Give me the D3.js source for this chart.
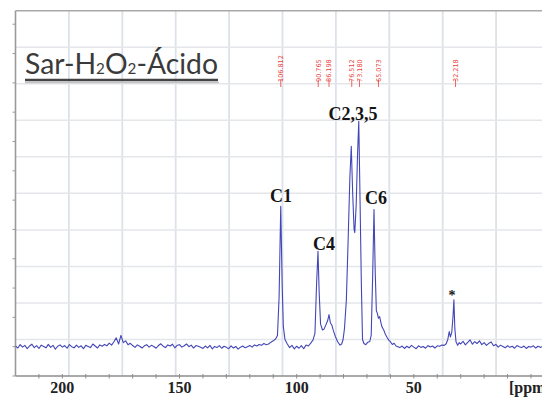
<!DOCTYPE html>
<html>
<head>
<meta charset="utf-8">
<script src="https://cdn.jsdelivr.net/npm/d3@7"></script>
<style>
  html, body { margin: 0; padding: 0; background: #fff; }
  svg { display: block; }
</style>
</head>
<body>
<svg id="chart"></svg>
<script>
// --- Spectrum data (ppm, relative intensity; tallest peak = 100) ---

// baseline noise, 1 ppm steps from 220 down to 113
const baseLeft = [
  0.4, -0.6, 0.9, -0.2, 0.6, -0.9, 0.3, 1.1, -0.4, 0.5,
  -0.8, 0.7, 0.1, -0.5, 1.0, -0.3, 0.6, -1.1, 0.2, 0.8,
  -0.2, 0.5, -0.7, 0.9, 0.0, -0.5, 0.7, -0.3, 0.4, -0.9,
  0.6, 0.1, -0.4, 1.2, 0.3, -0.6, 0.8, 0.2, 1.0, 0.4,
  1.6, 0.7, 2.2, 3.9, 1.2, 5.0, 1.8, 2.6, 0.9, 1.5,
  0.5, -0.3, 0.8, 0.2, -0.6, 0.4, 0.9, -0.2, 0.6, 0.1,
  -0.7, 0.5, 1.3, 0.2, -0.4, 0.8, 0.3, 1.1, -0.5, 0.6,
  0.9, -0.2, 0.4, 1.2, 0.0, 0.7, -0.6, 0.5, 0.2, -0.3,
  -0.8, 0.3, -0.5, 0.6, -1.0, 0.1, -0.4, 0.5, -0.7, 0.2,
  -0.3, -0.9, 0.4, -0.6, 0.1, -1.1, -0.2, 0.3, -0.5, 0.0,
  0.5, -0.2, 0.8, 0.3, 1.0, 0.6, 1.4, 0.9
];

// carbohydrate region, C1 .. C6
const peakRegion = [
  [112, 1.2], [111, 2.0], [110, 2.6], [109, 3.4], [108.2, 5], [107.5, 22],
  [106.8, 62.3], [106.2, 28], [105.7, 9], [105, 3.2], [104, 1.2], [103, -0.4],
  [102, 0.6], [101, -1.0], [100, 0.2], [99, -0.7], [98, 0.5], [97, -0.9],
  [96, 0.7], [95, 0.3], [94, 1.6], [93, 3.0], [92.2, 6], [91.5, 28],
  [90.9, 42.3], [90.4, 24], [89.8, 10], [89, 7.4], [88.3, 7.8], [87.5, 9.8],
  [86.8, 11.5], [86.2, 14.2], [85.6, 10.5], [85, 9.6], [84.3, 7], [83.5, 4.5],
  [82.5, 2.2], [81.5, 0.7], [80.8, 1.2], [80.2, 3.2], [79.6, 8], [78.8, 20.7],
  [78.1, 45], [77.3, 75], [76.7, 88.9], [76.1, 68], [75.5, 52], [75.2, 50.6],
  [74.6, 63], [74.0, 86], [73.5, 100], [73.0, 68], [72.4, 28], [71.9, 3.2],
  [71.3, 1.4], [70.5, 0.9], [69.6, 2.0], [68.8, 2.3], [68.2, 5], [67.6, 30],
  [67.0, 60.8], [66.5, 34], [66.0, 16], [65.6, 14.9], [65.1, 12.6], [64.6, 13.3],
  [64.0, 10.4], [63.5, 8.6], [62.8, 7.3], [62.2, 5.6], [61.4, 4.1], [60.7, 2.9],
  [60, 2.2], [59.2, 1.0], [58.4, 1.5], [57.6, 0.3]
];

// baseline noise, 56 down to 38
const baseMid = [
  -0.4, 0.3, -0.8, 0.2, -0.5, 0.6, -0.2, -0.9, 0.4, -0.3,
  0.1, -0.7, 0.5, -0.1, 0.3, -0.6, 0.4, 0.2, 0.7
];

// peak marked with *
const peakStar = [
  [37, 0.6], [36.2, 1.3], [35.5, 3.2], [34.9, 6.7], [34.4, 4.3], [33.8, 6.5],
  [33.3, 13], [32.9, 20.8], [32.5, 8], [32.0, 2.2], [31.3, 0.6], [30.6, 1.8]
];

// baseline noise, 30 down to -5
const baseRight = [
  1.2, 2.4, 0.8, 1.9, 3.0, 1.1, 2.2, 1.4, 2.6, 0.9,
  1.8, 0.6, 1.5, 2.1, 0.4, 1.0, -0.2, 0.7, 0.1, -0.5,
  0.4, -0.3, 0.2, -0.7, 0.5, 0.0, -0.4, 0.3, -0.8, 0.1,
  -0.2, 0.4, -0.6, 0.2, -0.3, 0.1
];

// peak assignments (label anchor in ppm / intensity)
const labelText = ['C1', 'C4', 'C2,3,5', 'C6', '*'];
const labelPpm = [106.7, 88.3, 76.0, 66.1, 33.7];
const labelInt = [64.2, 42.9, 100.5, 63.3, 20.6];

// peak-pick markers at the top
const pickPpm = [106.8, 90.8, 86.2, 76.5, 73.2, 65.1, 32.2];
const pickText = ['106.812', '90.765', '86.198', '76.512', '73.180', '65.073', '32.218'];

// axis
const tickLabels = [200, 150, 100, 50];
const minorTicks = d3.range(210, -1, -10);

// --- Layout ---
const width = 542, height = 397;
const frame = { left: 15.5, top: 10.7, right: 549.5, bottom: 376 };

const svg = d3.select('#chart')
  .attr('width', width)
  .attr('height', height)
  .attr('viewBox', `0 0 ${width} ${height}`);

const x = d3.scaleLinear().domain([220, -4.7]).range([frame.left, width]);
const y = d3.scaleLinear().domain([-13, 149]).range([frame.bottom, frame.top]);

// drawing grid (10 x 10 boxes independent of the ppm scale)
const gx = d3.scaleLinear().domain([0, 10]).range([frame.left, frame.right]);
const gy = d3.scaleLinear().domain([0, 10]).range([frame.top, frame.bottom]);

const grid = svg.append('g');
grid.selectAll('.vgrid')
  .data(d3.range(1, 10))
  .join('line')
  .attr('x1', d => gx(d)).attr('x2', d => gx(d))
  .attr('y1', frame.top).attr('y2', frame.bottom)
  .attr('stroke', '#dbe2ea')
  .attr('stroke-width', 1.8);
grid.selectAll('.hgrid')
  .data(d3.range(1, 10))
  .join('line')
  .attr('x1', frame.left).attr('x2', width)
  .attr('y1', d => gy(d)).attr('y2', d => gy(d))
  .attr('stroke', '#e4e6ea')
  .attr('stroke-width', 1.5);

// frame
svg.append('line')
  .attr('x1', frame.left).attr('x2', width)
  .attr('y1', frame.top).attr('y2', frame.top)
  .attr('stroke', '#a8a8a8').attr('stroke-width', 1.6);
svg.append('line')
  .attr('x1', frame.left).attr('x2', frame.left)
  .attr('y1', frame.top).attr('y2', frame.bottom)
  .attr('stroke', '#9a9a9a').attr('stroke-width', 1.6);

// small ticks on left edge
svg.selectAll('.ltick')
  .data(d3.range(-13, 149, 13))
  .join('line')
  .attr('x1', frame.left - 3).attr('x2', frame.left)
  .attr('y1', d => y(d)).attr('y2', d => y(d))
  .attr('stroke', '#9a9a9a').attr('stroke-width', 1);

// bottom axis
svg.append('line')
  .attr('x1', frame.left).attr('x2', width)
  .attr('y1', frame.bottom).attr('y2', frame.bottom)
  .attr('stroke', '#8c8c8c').attr('stroke-width', 1.4);
svg.selectAll('.btick')
  .data(minorTicks)
  .join('line')
  .attr('x1', d => x(d)).attr('x2', d => x(d))
  .attr('y1', frame.bottom - 2).attr('y2', frame.bottom + 2.5)
  .attr('stroke', '#8c8c8c').attr('stroke-width', 1);

const serif = '"Liberation Serif", "Times New Roman", "DejaVu Serif", serif';

svg.selectAll('.blabel')
  .data(tickLabels)
  .join('text')
  .attr('x', d => x(d))
  .attr('y', 393)
  .attr('text-anchor', 'middle')
  .attr('font-family', serif)
  .attr('font-weight', 'bold')
  .attr('font-size', 16)
  .attr('fill', '#222')
  .text(d => d);

svg.append('text')
  .attr('x', x(0) - 22)
  .attr('y', 393)
  .attr('font-family', serif)
  .attr('font-weight', 'bold')
  .attr('font-size', 16)
  .attr('fill', '#222')
  .text('[ppm]');

// --- Spectrum ---
const pts = [];
baseLeft.forEach((v, i) => pts.push([220 - i, v]));
peakRegion.forEach(p => pts.push(p));
baseMid.forEach((v, i) => pts.push([56 - i, v]));
peakStar.forEach(p => pts.push(p));
baseRight.forEach((v, i) => pts.push([30 - i, v]));
pts.sort((a, b) => b[0] - a[0]);

svg.append('defs').append('clipPath')
  .attr('id', 'plot-clip')
  .append('rect')
  .attr('x', frame.left).attr('y', frame.top)
  .attr('width', width - frame.left).attr('height', frame.bottom - frame.top);

svg.append('path')
  .datum(pts)
  .attr('clip-path', 'url(#plot-clip)')
  .attr('fill', 'none')
  .attr('stroke', '#4346b6')
  .attr('stroke-width', 1.1)
  .attr('stroke-linejoin', 'round')
  .attr('d', d3.line().x(d => x(d[0])).y(d => y(d[1])));

// peak labels
svg.selectAll('.plabel')
  .data(labelText)
  .join('text')
  .attr('x', (d, i) => x(labelPpm[i]))
  .attr('y', (d, i) => y(labelInt[i]))
  .attr('text-anchor', 'middle')
  .attr('font-family', serif)
  .attr('font-weight', 'bold')
  .attr('font-size', d => d === '*' ? 14 : 18)
  .attr('fill', '#151515')
  .text(d => d);

// peak-pick markers
const picks = svg.selectAll('.pick')
  .data(pickPpm)
  .join('g')
  .attr('transform', d => `translate(${x(d)},0)`);
picks.append('line')
  .attr('y1', 80).attr('y2', 87)
  .attr('stroke', '#e8403a').attr('stroke-width', 0.8);
picks.append('text')
  .attr('transform', 'translate(0,82) rotate(-90)')
  .attr('dy', '0.35em')
  .attr('font-family', '"DejaVu Sans", sans-serif')
  .attr('font-size', 6.5)
  .attr('fill', '#e8403a')
  .text((d, i) => pickText[i]);

// --- Title ---
const title = svg.append('text')
  .attr('font-family', 'Lato, "Open Sans", sans-serif')
  .attr('font-size', 28)
  .attr('fill', '#3a3a3a');
title.append('tspan').text('Sar-H');
title.append('tspan').attr('font-size', 15).text('2');
title.append('tspan').text('O');
title.append('tspan').attr('font-size', 15).text('2');
title.append('tspan').text('-Ácido');
const tw = title.node().getComputedTextLength();
title.attr('transform', `translate(25,74.3) scale(${193 / tw},1)`);

svg.append('line')
  .attr('x1', 25).attr('x2', 219)
  .attr('y1', 82.5).attr('y2', 82.5)
  .attr('stroke', '#c4c4c4').attr('stroke-width', 1.6);
svg.append('line')
  .attr('x1', 25).attr('x2', 218)
  .attr('y1', 80).attr('y2', 80)
  .attr('stroke', '#444').attr('stroke-width', 2.4);
</script>
</body>
</html>
